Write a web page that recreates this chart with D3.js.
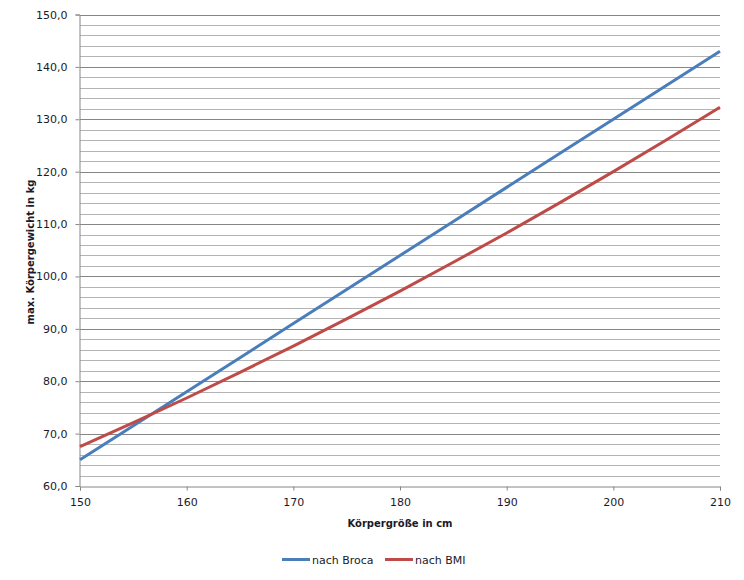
<!DOCTYPE html>
<html><head><meta charset="utf-8">
<script src="https://cdn.jsdelivr.net/npm/d3@7"></script>
<style>
body{margin:0;background:#fff;}
text{font-family:"DejaVu Sans",Verdana,sans-serif;fill:#1a1a2a;}
</style></head>
<body><svg id="c" width="744" height="580"></svg>
<script>
const heights = [150,155,160,165,170,175,180,185,190,195,200,205,210];
const broca   = [65,71.5,78,84.5,91,97.5,104,110.5,117,123.5,130,136.5,143];
const bmi     = [67.5,72.1,76.8,81.7,86.7,91.9,97.2,102.7,108.3,114.1,120,126.1,132.3];
const seriesNames = ["nach Broca","nach BMI"];
const colors = ["#4a7ebb","#be4b48"];
const xTicks = [150,160,170,180,190,200,210];
const yTicks = [60,70,80,90,100,110,120,130,140,150];

const svg = d3.select("#c");
const L=80, R=720, T=14.5, B=486;
const x = d3.scaleLinear().domain([150,210]).range([L,R]);
const y = d3.scaleLinear().domain([60,150]).range([B,T]);

// minor gridlines
const minor = d3.range(62,150,2).filter(v=>v%10!==0);
svg.append("g").selectAll("line").data(minor).join("line")
  .attr("x1",L).attr("x2",R).attr("y1",d=>Math.round(y(d))+0.5).attr("y2",d=>Math.round(y(d))+0.5)
  .attr("stroke","#b4b4b4").attr("stroke-width",1);
// major gridlines
svg.append("g").selectAll("line").data(yTicks.slice(1)).join("line")
  .attr("x1",L).attr("x2",R).attr("y1",d=>Math.round(y(d))+0.5).attr("y2",d=>Math.round(y(d))+0.5)
  .attr("stroke","#868686").attr("stroke-width",1);

// y axis
const ya = svg.append("g").attr("transform",`translate(${L-0.5},0)`)
  .call(d3.axisLeft(y).tickValues(yTicks).tickSize(4).tickPadding(8).tickFormat(d=>d3.format(".1f")(d).replace(".",",")));
ya.selectAll("line").attr("stroke","#868686");
ya.select(".domain").attr("stroke","#868686");
ya.selectAll("text").style("font-size","11px").style("font-family","DejaVu Sans, sans-serif").attr("fill","#1a1a2a");

// x axis
const xa = svg.append("g").attr("transform",`translate(0,${B+0.5})`)
  .call(d3.axisBottom(x).tickValues(xTicks).tickSize(4).tickPadding(8).tickFormat(d3.format("d")));
xa.selectAll("line").attr("stroke","#868686");
xa.select(".domain").attr("stroke","#868686");
xa.selectAll("text").style("font-size","11px").style("font-family","DejaVu Sans, sans-serif").attr("fill","#1a1a2a");

// lines
const line = d3.line().x((d,i)=>x(heights[i])).y(d=>y(d));
[broca,bmi].forEach((s,i)=>{
  svg.append("path").datum(s).attr("d",line).attr("fill","none")
    .attr("stroke",colors[i]).attr("stroke-width",3).attr("stroke-linejoin","round");
});

// axis titles
svg.append("text").attr("x",(L+R)/2).attr("y",527).attr("text-anchor","middle")
  .style("font-size","10px").style("font-weight","bold").text("Körpergröße in cm");
svg.append("text").attr("transform","translate(34,252) rotate(-90)").attr("text-anchor","middle")
  .style("font-size","10px").style("font-weight","bold").text("max. Körpergewicht in kg");

// legend
const lx=[282,385];
seriesNames.forEach((n,i)=>{
  svg.append("line").attr("x1",lx[i]).attr("x2",lx[i]+28).attr("y1",559.5).attr("y2",559.5)
    .attr("stroke",colors[i]).attr("stroke-width",3);
  svg.append("text").attr("x",lx[i]+30).attr("y",563.5).style("font-size","11px").text(n);
});
</script></body></html>
